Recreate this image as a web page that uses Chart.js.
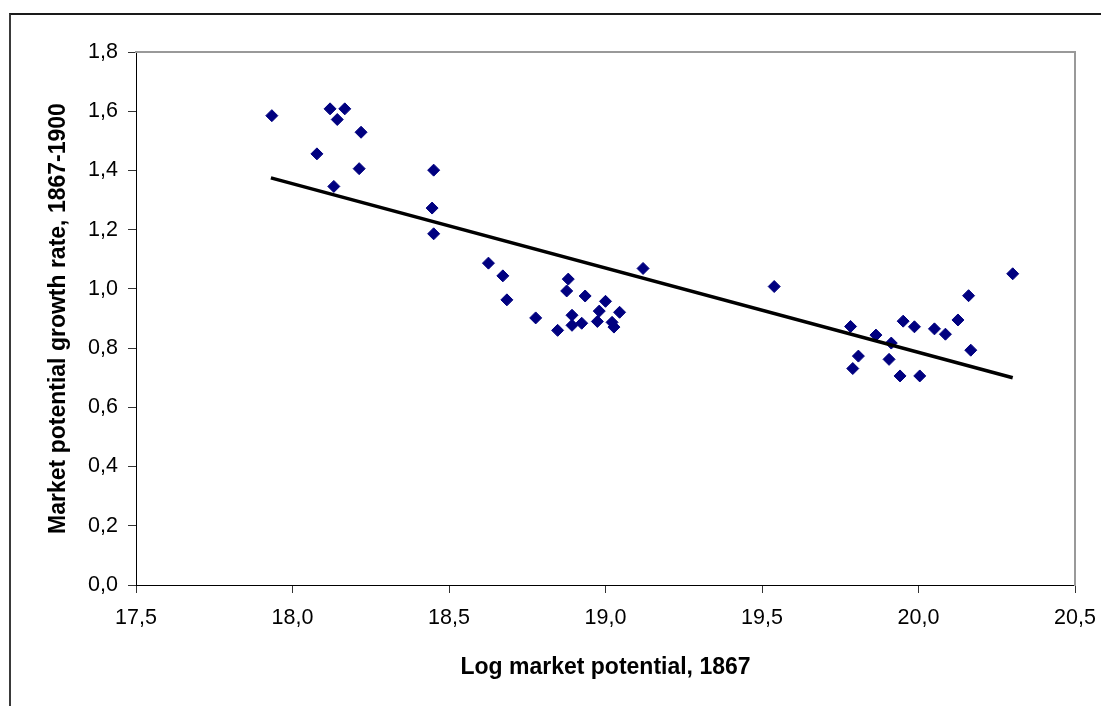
<!DOCTYPE html>
<html>
<head>
<meta charset="utf-8">
<script src="https://cdn.jsdelivr.net/npm/chart.js@4.4.1/dist/chart.umd.min.js"></script>
<style>
  html, body { margin: 0; padding: 0; background: #ffffff; }
  #wrap { position: relative; width: 1101px; height: 706px; overflow: hidden; }
  #frame { position: absolute; left: 9px; top: 13px; width: 1200px; height: 800px;
           border-left: 2px solid #3a3a3a; border-top: 2px solid #1a1a1a; }
  #c { position: absolute; left: 0; top: 0; }
</style>
</head>
<body>
<div id="wrap">
  <div id="frame"></div>
  <canvas id="c" width="1101" height="706"></canvas>
</div>
<script>
// Log market potential, 1867
const xValues = [17.934, 18.120, 18.167, 18.143, 18.219, 18.078, 18.213, 18.132, 18.451, 18.446, 18.451,
  18.626, 18.672, 18.685, 18.777, 18.847, 18.881, 18.876, 18.935, 19.000, 18.980, 19.045, 18.893, 18.893, 18.924, 18.974, 19.021, 19.027, 19.120,
  19.539, 20.301, 20.160, 20.126, 19.951, 19.987, 20.051, 20.086, 19.783, 19.864, 19.913, 19.808, 19.906, 20.167, 19.790, 19.941, 20.004];
// Market potential growth rate, 1867-1900
const yValues = [1.585, 1.608, 1.608, 1.572, 1.529, 1.456, 1.406, 1.346, 1.401, 1.273, 1.186,
  1.087, 1.044, 0.963, 0.902, 0.860, 1.033, 0.993, 0.976, 0.958, 0.925, 0.921, 0.911, 0.877, 0.884, 0.890, 0.887, 0.871, 1.069,
  1.008, 1.051, 0.977, 0.895, 0.891, 0.872, 0.865, 0.847, 0.873, 0.844, 0.817, 0.773, 0.762, 0.793, 0.731, 0.706, 0.706];
// Fitted trend line end points
const trendX = [17.931, 20.301];
const trendY = [1.375, 0.700];
// Tick values
const xTicks = [17.5, 18.0, 18.5, 19.0, 19.5, 20.0, 20.5];
const yTicks = [0.0, 0.2, 0.4, 0.6, 0.8, 1.0, 1.2, 1.4, 1.6, 1.8];

const xTitle = 'Log market potential, 1867';
const yTitle = 'Market potential growth rate, 1867-1900';

const FONT = "'Liberation Sans', Arial, Helvetica, sans-serif";
const fmt = v => Number(v).toFixed(1).replace('.', ',');

const scatterPoints = xValues.map((x, i) => ({ x: x, y: yValues[i] }));
const trendPoints = trendX.map((x, i) => ({ x: x, y: trendY[i] }));

new Chart(document.getElementById('c'), {
  type: 'scatter',
  data: {
    datasets: [
      {
        label: 'Observations',
        data: scatterPoints,
        pointStyle: 'rectRot',
        pointRadius: 6,
        pointBorderWidth: 1,
        backgroundColor: '#000080',
        borderColor: '#000080',
        order: 2
      },
      {
        type: 'line',
        label: 'Trend',
        data: trendPoints,
        showLine: true,
        borderColor: '#000000',
        borderWidth: 3.5,
        pointRadius: 0,
        fill: false,
        order: 1
      }
    ]
  },
  options: {
    responsive: false,
    animation: false,
    events: [],
    layout: { padding: { left: 0, top: 52, right: 26, bottom: 0 } },
    plugins: { legend: { display: false }, tooltip: { enabled: false } },
    scales: {
      x: {
        type: 'linear',
        position: 'bottom',
        min: 17.5, max: 20.5,
        afterBuildTicks: s => { s.ticks = xTicks.map(v => ({ value: v })); },
        afterFit: s => { s.height = 121; s.paddingLeft = 0; s.paddingRight = 0; },
        ticks: { color: '#000', font: { family: FONT, size: 21.5 }, padding: 12,
                 callback: v => fmt(v), maxRotation: 0, autoSkip: false },
        grid: { drawOnChartArea: false, drawTicks: true, tickLength: 8, color: '#333', lineWidth: 1 },
        border: { display: true, color: '#000', width: 1 },
        title: { display: true, text: xTitle, color: '#000',
                 font: { family: FONT, size: 23, weight: 'bold' }, padding: { top: 0, bottom: 25 } }
      },
      y: {
        type: 'linear',
        position: 'left',
        min: 0, max: 1.8,
        afterBuildTicks: s => { s.ticks = yTicks.map(v => ({ value: v })); },
        afterFit: s => { s.width = 136; s.paddingTop = 0; s.paddingBottom = 0; },
        ticks: { color: '#000', font: { family: FONT, size: 21.5 }, padding: 10,
                 callback: v => fmt(v), autoSkip: false },
        grid: { drawOnChartArea: false, drawTicks: true, tickLength: 8, color: '#333', lineWidth: 1 },
        border: { display: true, color: '#000', width: 1 },
        title: { display: true, text: yTitle, color: '#000',
                 font: { family: FONT, size: 23, weight: 'bold' }, padding: { top: 45, bottom: 0 } }
      },
      xTop: {
        type: 'linear',
        position: 'top',
        min: 17.5, max: 20.5,
        afterFit: s => { s.height = 0; s.paddingLeft = 0; s.paddingRight = 0; },
        ticks: { display: false },
        grid: { drawOnChartArea: false, drawTicks: false },
        border: { display: true, color: '#999999', width: 2 }
      },
      yRight: {
        type: 'linear',
        position: 'right',
        min: 0, max: 1.8,
        afterFit: s => { s.width = 0; s.paddingTop = 0; s.paddingBottom = 0; },
        ticks: { display: false },
        grid: { drawOnChartArea: false, drawTicks: false },
        border: { display: true, color: '#999999', width: 2 }
      }
    }
  }
});
</script>
</body>
</html>
